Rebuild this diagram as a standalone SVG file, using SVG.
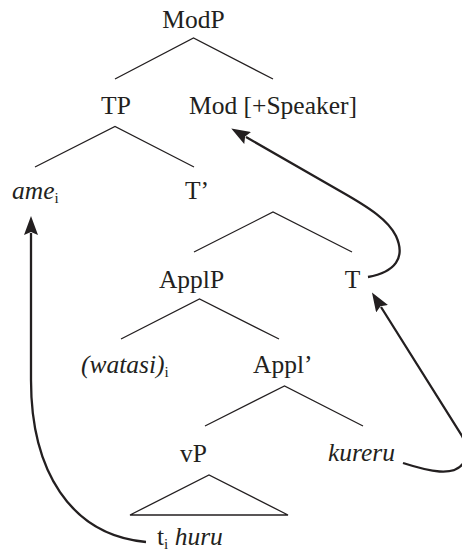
<svg xmlns="http://www.w3.org/2000/svg" width="462" height="553" viewBox="0 0 462 553">
  <style>
    text { font-family: "Liberation Serif", "Times New Roman", serif; font-size: 25.5px; fill: #231f20; }
    .it { font-style: italic; }
    .sub { font-size: 15px; font-style: normal; }
    .branch { stroke: #231f20; stroke-width: 1.3; fill: none; }
    .move { stroke: #231f20; stroke-width: 2.3; fill: none; marker-end: url(#head); }
  </style>
  <defs>
    <marker id="head" markerUnits="userSpaceOnUse" markerWidth="20" markerHeight="14" refX="2" refY="7" orient="auto">
      <path d="M0,0 L19,7 L0,14 L3,7 z" fill="#231f20"/>
    </marker>
  </defs>

  <rect width="462" height="553" fill="#ffffff"/>

  <!-- tree branches -->
  <g id="branches">
    <polyline class="branch" points="115,79 193.5,38 273,79"/>
    <polyline class="branch" points="35,167 115,126.5 194,167"/>
    <polyline class="branch" points="194,252 273,212 352,252"/>
    <polyline class="branch" points="121,339 199.5,299 279,339"/>
    <polyline class="branch" points="205,426 284.5,386 363,426"/>
    <polygon class="branch" points="130,515 209,475 288,515"/>
  </g>

  <!-- nodes -->
  <g id="node-modp"><text x="193.5" y="28" text-anchor="middle">ModP</text></g>
  <g id="node-tp"><text x="116" y="114" text-anchor="middle">TP</text></g>
  <g id="node-mod"><text x="189" y="114">Mod [+Speaker]</text></g>
  <g id="node-ame"><text x="12" y="199"><tspan class="it">ame</tspan><tspan class="sub" dy="4">i</tspan></text></g>
  <g id="node-tbar"><text x="185" y="199">T’</text></g>
  <g id="node-applp"><text x="191.5" y="288" text-anchor="middle">ApplP</text></g>
  <g id="node-t"><text x="352.5" y="288" text-anchor="middle">T</text></g>
  <g id="node-watasi"><text x="81" y="373"><tspan class="it">(watasi)</tspan><tspan class="sub" dy="4">i</tspan></text></g>
  <g id="node-applbar"><text x="253" y="373">Appl’</text></g>
  <g id="node-vp"><text x="193.5" y="461.5" text-anchor="middle">vP</text></g>
  <g id="node-kureru"><text x="328" y="461" class="it">kureru</text></g>
  <g id="node-huru"><text x="157" y="545">t<tspan class="sub" dy="4">i</tspan><tspan dy="-4"> </tspan><tspan class="it">huru</tspan></text></g>

  <!-- movement arrows -->
  <g id="connectors">
    <path class="move" d="M146,542 C70,535 31,470 31,380 L31,233"/>
    <path class="move" d="M403,463 C428,471 455,478 464,462 C468,455 467,445 462,436 L381,307"/>
    <path class="move" d="M368,277 C395,272 406,258 396,236 C388,220 370,208 340,191 L246,137"/>
  </g>
</svg>
